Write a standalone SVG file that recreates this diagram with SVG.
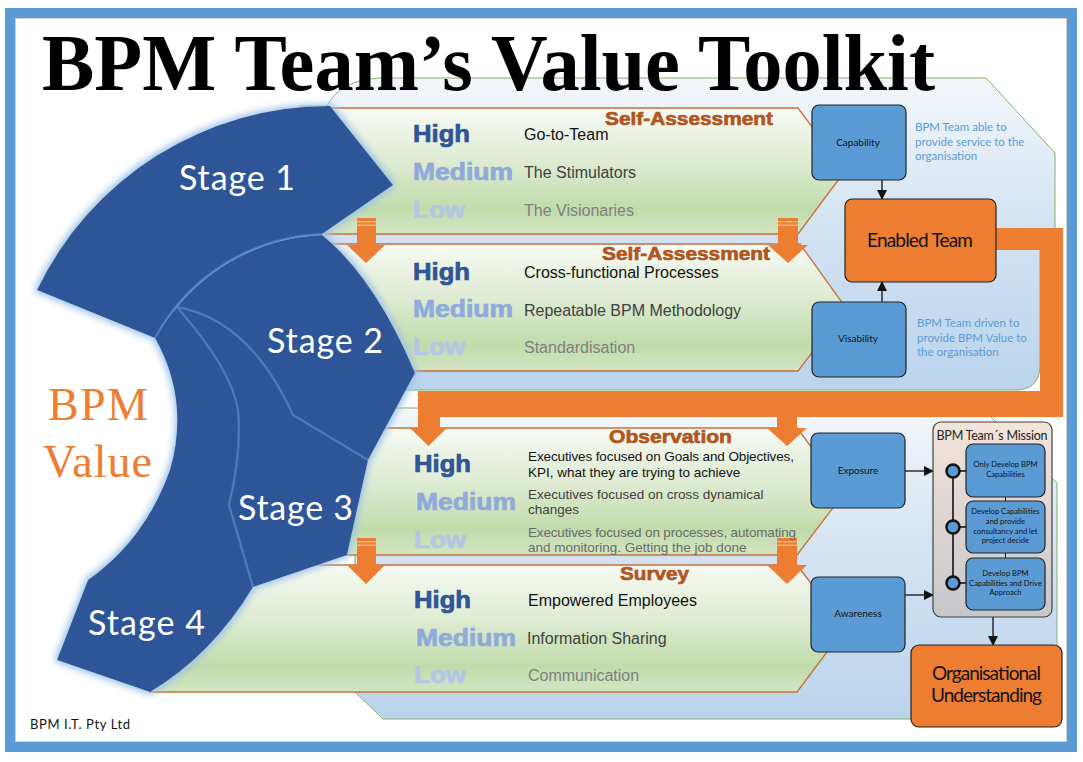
<svg xmlns="http://www.w3.org/2000/svg" width="1083" height="762" viewBox="0 0 1083 762">
<defs>
<style>
.lvl{font-family:"Liberation Sans",Arial,sans-serif;font-weight:bold}
.hi{fill:#2F5597;stroke:#2F5597;stroke-width:0.7}
.md{fill:#8FAADC;stroke:#8FAADC;stroke-width:0.7}
.lo{fill:#B4C7E7;stroke:#B4C7E7;stroke-width:0.7}
.desc{font-family:"Liberation Sans",Arial,sans-serif;font-size:16px}
.d3{font-family:"Liberation Sans",Arial,sans-serif;font-size:13.5px}
.k1{fill:#111}
.k2{fill:#404040}
.k3{fill:#7F7F7F}
.head{font-family:"Liberation Sans",Arial,sans-serif;font-weight:bold;font-size:19px;fill:#B5561C;stroke:#A84F18;stroke-width:0.6}
.band{stroke:#C8703A;stroke-width:1.3}
.stage{fill:#2F5597}
.sline{fill:none;stroke:#4F80C6;stroke-width:2.5;opacity:0.75}
.stxt{font-family:Lato,"Open Sans",sans-serif;font-size:34px;fill:#fff}
.bbox{fill:#5B9BD5;stroke:#222;stroke-width:1.2}
.obox{fill:#ED7D31;stroke:#222;stroke-width:1.2}
.btxt{font-family:Lato,"Open Sans",sans-serif;font-size:10px;fill:#111;text-anchor:middle}
.otxt{font-family:Lato,"Open Sans",sans-serif;font-size:19px;fill:#111;text-anchor:middle}
.note{font-family:Lato,"Open Sans",sans-serif;font-size:11.5px;fill:#5B9BD5}
.mtxt{font-family:Lato,"Open Sans",sans-serif;font-size:7.6px;fill:#111;text-anchor:middle}
.conn{stroke:#111;stroke-width:1.3;fill:none}
.orng{fill:#ED7D31}
.strp{fill:#F4B183}
.bgo{stroke:#84B06A;stroke-width:1}
</style>
<linearGradient id="gBand" x1="0" y1="0" x2="0" y2="1">
<stop offset="0" stop-color="#F7FAF4"/>
<stop offset="0.45" stop-color="#DDEBD1"/>
<stop offset="0.8" stop-color="#C1DCAB"/>
<stop offset="1" stop-color="#D3E6C4"/>
</linearGradient>
<linearGradient id="gBg1" gradientUnits="userSpaceOnUse" x1="0" y1="78" x2="0" y2="390">
<stop offset="0" stop-color="#F3F7FB"/>
<stop offset="0.45" stop-color="#D5E4F3"/>
<stop offset="1" stop-color="#BBD4EC"/>
</linearGradient>
<linearGradient id="gBg2" gradientUnits="userSpaceOnUse" x1="0" y1="408" x2="0" y2="719">
<stop offset="0" stop-color="#F3F7FB"/>
<stop offset="0.45" stop-color="#D5E4F3"/>
<stop offset="1" stop-color="#BBD4EC"/>
</linearGradient>
<linearGradient id="gMis" x1="0" y1="0" x2="0" y2="1">
<stop offset="0" stop-color="#F4E3D7"/>
<stop offset="1" stop-color="#C7C6C9"/>
</linearGradient>
<filter id="glow" x="-15%" y="-10%" width="130%" height="120%">
<feMorphology in="SourceAlpha" operator="dilate" radius="2" result="d"/>
<feGaussianBlur in="d" stdDeviation="3.5" result="b"/>
<feFlood flood-color="#9DC3E6"/>
<feComposite in2="b" operator="in" result="g"/>
<feMerge><feMergeNode in="g"/><feMergeNode in="SourceGraphic"/></feMerge>
</filter>
<marker id="ah" markerWidth="10" markerHeight="10" refX="9" refY="5" orient="auto" markerUnits="userSpaceOnUse">
<path d="M0,0 L10,5 L0,10 Z" fill="#111"/>
</marker>
</defs>

<rect x="0" y="0" width="1083" height="762" fill="#fff"/>
<rect x="10" y="13" width="1062" height="734" fill="none" stroke="#5B9BD5" stroke-width="10"/>
<rect x="15.5" y="18.5" width="1051" height="723" fill="none" stroke="#D0D0D0" stroke-width="1"/>

<g id="background">
<path class="bgo" fill="url(#gBg1)" d="M327,106 Q340,80 380,78 L986,78 L1055,153 L1055,250 L1040,250 L1040,365 Q1040,390 1015,390 L300,390 L300,106 Z"/>
<path class="bgo" fill="url(#gBg2)" d="M397,408 L982,408 L1057,483 L1057,719 L383,719 L355,692 L355,408 Z"/>
</g>

<g id="band1"><path class="band" fill="url(#gBand)" d="M300,108 H798 L845,171 L798,234 H300 Z"/></g>
<g id="band2"><path class="band" fill="url(#gBand)" d="M300,244 H800 L846,308 L798,371 H300 Z"/></g>
<g id="band3"><path class="band" fill="url(#gBand)" d="M340,428 H797 L845,492 L797,555 H340 Z"/></g>
<g id="band4"><path class="band" fill="url(#gBand)" d="M150,565 H797 L845,628 L797,692 H150 Z"/></g>

<g id="stages" filter="url(#glow)">
<path id="stage1" class="stage" d="M37,290 A324,324 0 0 1 330,106 L393,185 L322,234 A198,198 0 0 0 155,338 Z"/>
<path id="stage2" class="stage" d="M177,307 A198,198 0 0 1 322,235 Q375,278 415,373 L368,460 L293,415 Q250,320 177,307 Z"/>
<path id="stage3" class="stage" d="M177,307 Q250,320 293,415 L368,460 L347,555 L253,587 L229,505 Q242,450 238,410 Q232,370 177,307 Z"/>
<path id="stage4" class="stage" d="M155,338 A198,198 0 0 1 177,307 Q232,370 238,410 Q242,450 229,505 L253,587 Q212,655 150,692 L57,660 L88,580 Q145,540 170,470 Q190,400 155,338 Z"/>
</g>
<g id="stage-lines">
<path class="sline" d="M155,338 A198,198 0 0 1 322,234"/>
<path class="sline" d="M177,307 Q232,370 238,410 Q242,450 229,505 L253,587"/>
<path class="sline" d="M177,307 Q250,320 293,415 L368,460"/>
</g>

<g id="connectors">
<path class="orng" d="M357,218 H376 V245 H385 L366,263 L347,245 H357 Z"/>
<rect class="strp" x="357" y="221" width="19" height="1.5"/><rect class="strp" x="357" y="224.5" width="19" height="1.5"/>
<path class="orng" d="M778,218 H798 V245 H808 L788,263 L768,245 H778 Z"/>
<rect class="strp" x="778" y="221" width="20" height="1.5"/><rect class="strp" x="778" y="224.5" width="20" height="1.5"/>
<path class="orng" d="M357,538 H376 V565 H385 L366,584 L347,565 H357 Z"/>
<rect class="strp" x="357" y="541" width="19" height="1.5"/><rect class="strp" x="357" y="544.5" width="19" height="1.5"/>
<path class="orng" d="M777,538 H797 V565 H807 L787,584 L767,565 H777 Z"/>
<rect class="strp" x="777" y="541" width="20" height="1.5"/><rect class="strp" x="777" y="544.5" width="20" height="1.5"/>
<path class="orng" d="M996,228 H1063 V417 H440 V428 H447 L428.5,446 L410,428 H418 V391 H1040 V250 H996 Z"/>
<path class="orng" d="M777,417 H797 V428 H807 L787,446 L767,428 H777 Z"/>
<line class="conn" x1="882" y1="180" x2="882" y2="199" marker-end="url(#ah)"/>
<line class="conn" x1="882" y1="302" x2="882" y2="282" marker-end="url(#ah)"/>
<line class="conn" x1="905" y1="471" x2="933" y2="471" marker-end="url(#ah)"/>
<line class="conn" x1="905" y1="595" x2="933" y2="595" marker-end="url(#ah)"/>
<line class="conn" x1="993" y1="617" x2="993" y2="645" marker-end="url(#ah)"/>
</g>

<g id="capability"><rect class="bbox" x="812" y="105" width="94" height="75" rx="7"/><text class="btxt" x="858" y="146">Capability</text></g>
<g id="enabled-team"><rect class="obox" x="845" y="199" width="151" height="83" rx="7"/><text class="otxt" x="920" y="247" textLength="106">Enabled Team</text></g>
<g id="visability"><rect class="bbox" x="812" y="302" width="94" height="75" rx="7"/><text class="btxt" x="858" y="342">Visability</text></g>
<g id="exposure"><rect class="bbox" x="811" y="433" width="94" height="75" rx="7"/><text class="btxt" x="858" y="474">Exposure</text></g>
<g id="awareness"><rect class="bbox" x="811" y="577" width="94" height="75" rx="7"/><text class="btxt" x="858" y="617">Awareness</text></g>

<g id="mission">
<rect x="933" y="422" width="119" height="195" rx="8" fill="url(#gMis)" fill-opacity="0.92" stroke="#404040" stroke-width="1.2"/>
<text x="992" y="440" font-family="Lato, 'Open Sans', sans-serif" font-size="12.5" fill="#222" text-anchor="middle" textLength="111">BPM Team´s Mission</text>
<line x1="953" y1="471" x2="953" y2="583" stroke="#111" stroke-width="1.6"/>
<line x1="960" y1="471" x2="966" y2="471" stroke="#111" stroke-width="1.6"/>
<line x1="960" y1="527" x2="966" y2="527" stroke="#111" stroke-width="1.6"/>
<line x1="960" y1="583" x2="966" y2="583" stroke="#111" stroke-width="1.6"/>
<line x1="1005.5" y1="497" x2="1005.5" y2="501" stroke="#111" stroke-width="1"/>
<line x1="1005.5" y1="553" x2="1005.5" y2="558" stroke="#111" stroke-width="1"/>
<circle cx="953" cy="471" r="6.5" fill="#5B9BD5" stroke="#111" stroke-width="2.5"/>
<circle cx="953" cy="527" r="6.5" fill="#5B9BD5" stroke="#111" stroke-width="2.5"/>
<circle cx="953" cy="583" r="6.5" fill="#5B9BD5" stroke="#111" stroke-width="2.5"/>
<g id="mission1"><rect class="bbox" x="966" y="444" width="79" height="53" rx="7"/>
<text class="mtxt" x="1005.5" y="467">Only Develop BPM</text><text class="mtxt" x="1005.5" y="477">Capabilities</text></g>
<g id="mission2"><rect class="bbox" x="966" y="501" width="79" height="52" rx="7"/>
<text class="mtxt" x="1005.5" y="514">Develop Capabilities</text><text class="mtxt" x="1005.5" y="524">and provide</text><text class="mtxt" x="1005.5" y="533.5">consultancy and let</text><text class="mtxt" x="1005.5" y="543">project decide</text></g>
<g id="mission3"><rect class="bbox" x="966" y="558" width="79" height="52" rx="7"/>
<text class="mtxt" x="1005.5" y="576">Develop BPM</text><text class="mtxt" x="1005.5" y="585.5">Capabilities and Drive</text><text class="mtxt" x="1005.5" y="595">Approach</text></g>
</g>

<g id="org-understanding"><rect class="obox" x="911" y="645" width="151" height="82" rx="8"/>
<text class="otxt" x="986.5" y="680" font-size="18" textLength="109">Organisational</text>
<text class="otxt" x="986.5" y="702" font-size="18" textLength="111">Understanding</text></g>

<g id="notes">
<text class="note" x="915" y="131">BPM Team able to</text>
<text class="note" x="915" y="145.5">provide service to the</text>
<text class="note" x="915" y="160">organisation</text>
<text class="note" x="917" y="327">BPM Team driven to</text>
<text class="note" x="917" y="341.5">provide BPM Value to</text>
<text class="note" x="917" y="356">the organisation</text>
</g>

<g id="band-texts">
<text class="head" x="605" y="125" textLength="168" lengthAdjust="spacingAndGlyphs">Self-Assessment</text>
<text class="lvl hi" x="413" y="142" font-size="23" textLength="57" lengthAdjust="spacingAndGlyphs">High</text>
<text class="lvl md" x="413" y="180" font-size="23" textLength="100" lengthAdjust="spacingAndGlyphs">Medium</text>
<text class="lvl lo" x="413" y="218" font-size="23" textLength="52" lengthAdjust="spacingAndGlyphs">Low</text>
<text class="desc k1" x="524" y="140">Go-to-Team</text>
<text class="desc k2" x="524" y="178">The Stimulators</text>
<text class="desc k3" x="524" y="216">The Visionaries</text>

<text class="head" x="602" y="260" textLength="168" lengthAdjust="spacingAndGlyphs">Self-Assessment</text>
<text class="lvl hi" x="413" y="280" font-size="23" textLength="57" lengthAdjust="spacingAndGlyphs">High</text>
<text class="lvl md" x="413" y="317" font-size="23" textLength="100" lengthAdjust="spacingAndGlyphs">Medium</text>
<text class="lvl lo" x="413" y="355" font-size="23" textLength="52" lengthAdjust="spacingAndGlyphs">Low</text>
<text class="desc k1" x="524" y="278">Cross-functional Processes</text>
<text class="desc k2" x="524" y="316">Repeatable BPM Methodology</text>
<text class="desc k3" x="524" y="353">Standardisation</text>

<text class="head" x="609" y="443" textLength="123" lengthAdjust="spacingAndGlyphs">Observation</text>
<text class="lvl hi" x="414" y="472" font-size="23" textLength="57" lengthAdjust="spacingAndGlyphs">High</text>
<text class="lvl md" x="416" y="510" font-size="23" textLength="100" lengthAdjust="spacingAndGlyphs">Medium</text>
<text class="lvl lo" x="414" y="548" font-size="23" textLength="52" lengthAdjust="spacingAndGlyphs">Low</text>
<text class="d3 k1" x="528" y="461" textLength="266">Executives focused on Goals and Objectives,</text>
<text class="d3 k1" x="528" y="477">KPI, what they are trying to achieve</text>
<text class="d3 k2" x="528" y="499">Executives focused on cross dynamical</text>
<text class="d3 k2" x="528" y="514">changes</text>
<text class="d3" fill="#6A6A6A" x="528" y="537" textLength="268">Executives focused on processes, automating</text>
<text class="d3" fill="#6A6A6A" x="528" y="552">and monitoring. Getting the job done</text>

<text class="head" x="620" y="580" textLength="69" lengthAdjust="spacingAndGlyphs">Survey</text>
<text class="lvl hi" x="414" y="608" font-size="23" textLength="57" lengthAdjust="spacingAndGlyphs">High</text>
<text class="lvl md" x="416" y="646" font-size="23" textLength="100" lengthAdjust="spacingAndGlyphs">Medium</text>
<text class="lvl lo" x="414" y="683" font-size="23" textLength="52" lengthAdjust="spacingAndGlyphs">Low</text>
<text class="desc k1" x="528" y="606">Empowered Employees</text>
<text class="desc k2" x="527" y="644">Information Sharing</text>
<text class="desc k3" x="528" y="681">Communication</text>
</g>

<g id="stage-labels">
<text class="stxt" x="179" y="190" textLength="116">Stage 1</text>
<text class="stxt" x="267" y="353" textLength="116">Stage 2</text>
<text class="stxt" x="238" y="520" textLength="115">Stage 3</text>
<text class="stxt" x="88" y="635" textLength="117">Stage 4</text>
</g>

<g id="bpm-value">
<text x="48" y="420" font-family="'Liberation Serif', 'Times New Roman', serif" font-size="46" fill="#ED7D31" textLength="100">BPM</text>
<text x="43" y="477" font-family="'Liberation Serif', 'Times New Roman', serif" font-size="46" fill="#ED7D31" textLength="109">Value</text>
</g>

<text id="title" x="42" y="90" font-family="'Liberation Serif', 'Times New Roman', serif" font-size="80" font-weight="bold" fill="#000" textLength="893" lengthAdjust="spacingAndGlyphs">BPM Team’s Value Toolkit</text>
<text id="footer" x="30" y="729" font-family="Lato, 'Open Sans', sans-serif" font-size="13" fill="#111" textLength="100">BPM I.T. Pty Ltd</text>
</svg>
